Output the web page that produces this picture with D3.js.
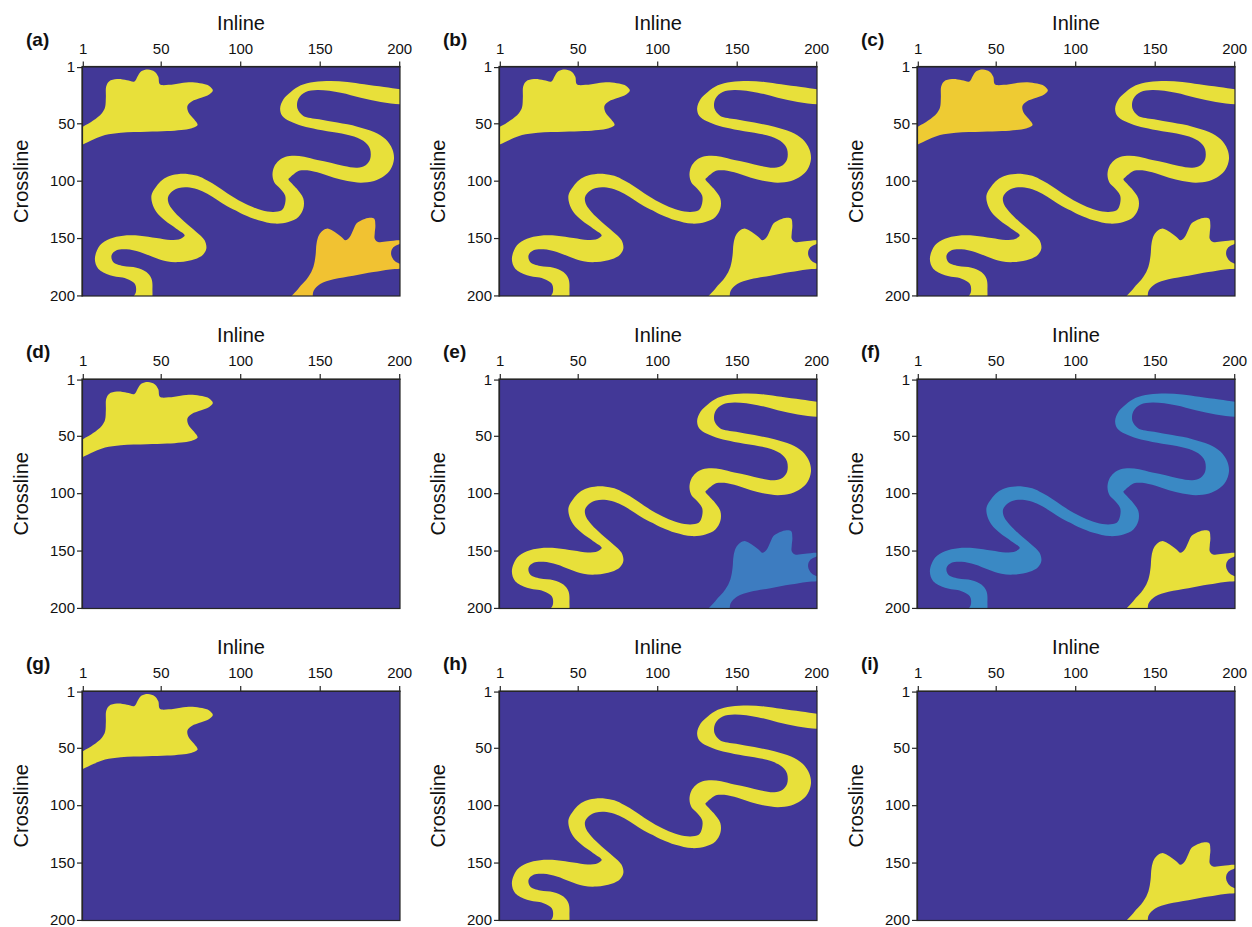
<!DOCTYPE html>
<html><head><meta charset="utf-8">
<script src="https://cdn.jsdelivr.net/npm/d3@7"></script>
<style>body{margin:0;background:#fff;} svg{display:block;font-family:"Liberation Sans",Arial,sans-serif;}</style>
</head><body><svg id="c" width="1252" height="927"></svg>
<script>
// ---------------- DATA ----------------
const panelLabels = ["(a)","(b)","(c)","(d)","(e)","(f)","(g)","(h)","(i)"];
const tickValues = [1, 50, 100, 150, 200];
const xTitle = "Inline";
const yTitle = "Crossline";

// body outlines in grid coordinates [inline, crossline]
const blob1 = [[-3,70],[1,68.5],[8,64],[15,60.3],[25,58.2],[41.3,57.4],[54,56.8],[63,55.8],[69,54.5],[73.2,51.5],[71,46.5],[67.5,40.5],[66.8,35],[69.5,31],[75.5,27.8],[80.5,25],[82.8,21.5],[80.5,17.5],[76,15.4],[70,14.2],[62.5,15],[55,16.5],[49.5,16],[48.5,9.5],[46.2,5],[42,3.1],[38,4.5],[35.5,9],[33.5,13.5],[28.8,12.4],[22.5,11.5],[17.5,13.5],[15.7,18],[15.5,27.5],[15,36],[13,41.2],[7.5,47.6],[1.3,52.7],[-3,55]];

const channelBankA = [[206,20.6],[200.9,20.4],[190.5,18.4],[177.9,16.0],[167.4,14.0],[156.9,13.1],[146.4,14.0],[138.1,16.9],[131.8,22.7],[127.2,29.1],[125.1,37.2],[126.5,43.6],[131.3,48.3],[139.1,52.4],[148.5,55.3],[161.1,58.2],[171.6,61.6],[178.9,66.9],[181.7,72.7],[181.7,81.4],[178.9,86.6],[173.7,88.7],[165.3,87.2],[156.9,84.3],[148.5,82.0],[140.2,79.1],[133.9,78.2],[128.6,79.2],[124.4,82.5],[121.3,88],[120.3,95],[121.5,101.5],[124.0,105.4],[128.2,112.7],[128.2,120.0],[126.1,125.8],[120.9,127.2],[113.6,125.8],[105.2,121.4],[98.9,117.1],[91.8,111.0],[85.6,105.1],[79.3,99.9],[73.0,95.8],[66.7,94.1],[60.5,94.4],[54.6,96.4],[50.0,100.5],[46.3,106.9],[44.2,112.7],[44.8,120.3],[47.3,127.2],[52.5,134.5],[59.8,141.8],[65.1,147.6],[62.6,150.5],[56.3,151.7],[47.3,149.9],[36.9,147.9],[26.4,147.9],[18.1,150.5],[11.8,156.3],[8.6,168.0],[10.7,176.7],[18.1,182.5],[28.5,185.4],[33.7,189.8],[34.4,197.0],[31,206]];

const channelBankB = [[206,33.6],[200.9,33.5],[188.4,31.4],[175.8,27.7],[163.2,23.3],[148.5,21.0],[141.2,22.7],[136.6,28.5],[136.0,37.2],[139.7,43.6],[149.6,46.5],[161.1,49.4],[173.7,52.9],[184.2,57.6],[191.5,64.0],[195.7,72.7],[196.7,81.4],[194.6,90.1],[190.5,96.0],[184.2,100.3],[175.8,101.7],[167.4,100.3],[159.0,97.4],[150.6,93.6],[142.2,91.0],[137.5,91.2],[134.2,93.8],[131.5,97.0],[130.3,98.7],[132.8,102.8],[135.5,106.9],[139.7,115.6],[139.7,124.3],[136.6,131.6],[130.3,136.0],[121.9,137.4],[111.5,134.5],[103.1,130.1],[98.9,127.2],[91.8,122.3],[85.6,116.8],[79.3,111.5],[73.0,107.5],[66.7,105.7],[61.5,106.3],[57.3,109.2],[54.6,114.4],[55.3,120.8],[58.8,127.5],[65.1,136.0],[72.4,144.7],[77.6,152.0],[78.7,159.2],[76.6,164.5],[71.3,168.5],[62.0,170.9],[53.6,170.3],[45.2,166.5],[36.9,162.1],[28.5,159.8],[22.2,160.7],[19.1,165.0],[20.1,170.9],[26.4,174.4],[34.8,175.8],[41.0,179.6],[44.2,185.4],[44.8,194.1],[43.5,206]];

const blob2 = [[130,206],[136.5,194.1],[142.8,184.0],[146.0,175.2],[147.4,165.0],[148.0,154.9],[149.5,147.6],[152.2,143.2],[155.4,141.8],[159.5,144.7],[163.7,149.1],[166.2,152.0],[168.9,149.1],[171.0,143.2],[173.1,137.4],[176.3,134.5],[180.4,132.5],[184.2,133.0],[185.0,138.9],[184.6,146.1],[184.6,150.5],[186.7,153.4],[193.0,152.8],[206,151.5],[196.3,158.1],[194.9,163.9],[197.4,170.3],[206,175.5],[194.2,177.3],[183.8,179.6],[171.2,182.8],[158.7,186.0],[150.3,190.1],[146.2,195.9],[144.5,206]];

// colours of each body in each panel (null = absent)
const palette = {bg:"#423897", yellow:"#E8E03A", orangeA:"#F1C232", orangeC:"#EECB33", blueE:"#3D7CC0", blueF:"#3A89C4"};
const blob1Colors   = ["yellow","yellow","orangeC","yellow",null,null,"yellow",null,null];
const channelColors = ["yellow","yellow","yellow",null,"yellow","blueF",null,"yellow",null];
const blob2Colors   = ["orangeA","yellow","yellow",null,"blueE","yellow",null,null,"yellow"];

// ---------------- LAYOUT ----------------
const colLeft = [82, 499, 917];
const rowTop = [66.5, 379, 691];
const W = 318, H = 229.5;
const axisColor = "#262626";

const svg = d3.select("#c");
const x = d3.scaleLinear().domain([0.5, 200.5]).range([0, W]);
const y = d3.scaleLinear().domain([0.5, 200.5]).range([0, H]);
const line = d3.line().x(d => x(d[0])).y(d => y(d[1])).curve(d3.curveCatmullRomClosed.alpha(0.5));
const channel = channelBankA.concat(channelBankB.slice().reverse());

const bodies = [
  {pts: blob1, colors: blob1Colors},
  {pts: channel, colors: channelColors},
  {pts: blob2, colors: blob2Colors}
];

panelLabels.forEach((lab, i) => {
  const r = Math.floor(i / 3), c = i % 3;
  const g = svg.append("g").attr("transform", `translate(${colLeft[c]},${rowTop[r]})`);
  const cid = "clip" + i;
  svg.append("clipPath").attr("id", cid).append("rect").attr("width", W).attr("height", H);
  const plot = g.append("g").attr("clip-path", `url(#${cid})`);
  plot.append("rect").attr("width", W).attr("height", H).attr("fill", palette.bg);
  bodies.forEach(b => {
    const col = b.colors[i];
    if (col) plot.append("path").attr("d", line(b.pts)).attr("fill", palette[col]);
  });
  g.append("rect").attr("width", W).attr("height", H).attr("fill", "none")
    .attr("stroke", axisColor).attr("stroke-width", 1.2);

  const ax = g.append("g").call(d3.axisTop(x).tickValues(tickValues).tickSize(5).tickSizeOuter(0).tickPadding(8));
  const ay = g.append("g").call(d3.axisLeft(y).tickValues(tickValues).tickSize(5).tickSizeOuter(0).tickPadding(2));
  [ax, ay].forEach(a => {
    a.select(".domain").attr("stroke", axisColor).attr("stroke-width", 1.2);
    a.selectAll(".tick line").attr("stroke", axisColor).attr("stroke-width", 1.2);
    a.selectAll(".tick text").attr("fill", "#111").style("font-size", "15px").style("font-family", '"Liberation Sans", Arial, sans-serif');
  });

  g.append("text").attr("x", W / 2).attr("y", -37).attr("text-anchor", "middle")
    .style("font-size", "20px").attr("fill", "#111").text(xTitle);
  g.append("text").attr("transform", `translate(-54,${H / 2}) rotate(-90)`).attr("text-anchor", "middle")
    .style("font-size", "20px").attr("fill", "#111").text(yTitle);
  g.append("text").attr("x", -56).attr("y", -21).style("font-size", "19px").style("font-weight", "bold")
    .attr("fill", "#111").text(lab);
});
</script></body></html>
